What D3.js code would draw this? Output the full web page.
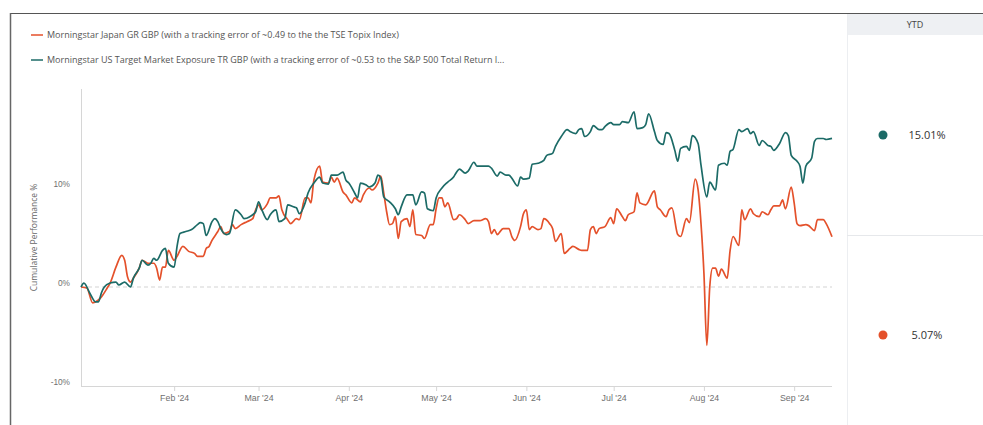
<!DOCTYPE html>
<html>
<head>
<meta charset="utf-8">
<script src="https://cdn.jsdelivr.net/npm/d3@7"></script>
<style>
  body { margin: 0; background: #fff; }
  svg { display: block; font-family: "Open Sans", "Liberation Sans", sans-serif; }
</style>
</head>
<body>
<svg id="chart"></svg>
<script>
// Series names, colours and YTD figures
const seriesNames = [
  "Morningstar Japan GR GBP (with a tracking error of ~0.49 to the the TSE Topix Index)",
  "Morningstar US Target Market Exposure TR GBP (with a tracking error of ~0.53 to the S&P 500 Total Return I..."
];
const seriesColors = ["#e4512b", "#1c6b67"];
const ytdValues = ["15.01%", "5.07%"];
const ytdColors = ["#1c6b67", "#e4512b"];

const yTicks = [-10, 0, 10];
const xTicks = ["2024-02-01", "2024-03-01", "2024-04-01", "2024-05-01", "2024-06-01", "2024-07-01", "2024-08-01", "2024-09-01"];

// cumulative performance %
const japanData = [
  ["2023-12-31", 0], ["2024-01-02", -0.1], ["2024-01-04", -1.6], ["2024-01-06", -1.3], ["2024-01-07", -1.0],
  ["2024-01-09", -0.1], ["2024-01-10", 0.4], ["2024-01-12", 2.0], ["2024-01-14", 3.2], ["2024-01-15", 2.7],
  ["2024-01-16", 1.0], ["2024-01-17", 0.5], ["2024-01-18", 0.9], ["2024-01-20", 1.9], ["2024-01-21", 2.7],
  ["2024-01-23", 2.4], ["2024-01-25", 2.4], ["2024-01-26", 1.9], ["2024-01-27", 0.7], ["2024-01-28", 2.0],
  ["2024-01-29", 2.0], ["2024-01-30", 3.7], ["2024-02-01", 2.7], ["2024-02-02", 3.1], ["2024-02-04", 4.1],
  ["2024-02-06", 3.6], ["2024-02-08", 3.4], ["2024-02-09", 3.1], ["2024-02-11", 3.1], ["2024-02-12", 3.9],
  ["2024-02-13", 4.1], ["2024-02-14", 4.7], ["2024-02-16", 5.6], ["2024-02-17", 6.1], ["2024-02-18", 5.4],
  ["2024-02-20", 5.6], ["2024-02-21", 6.3], ["2024-02-22", 5.9], ["2024-02-24", 6.3], ["2024-02-26", 6.6],
  ["2024-02-28", 6.9], ["2024-02-29", 7.8], ["2024-03-01", 8.3], ["2024-03-02", 7.8], ["2024-03-04", 8.4],
  ["2024-03-05", 9.0], ["2024-03-07", 9.0], ["2024-03-08", 9.2], ["2024-03-09", 7.8], ["2024-03-11", 6.8],
  ["2024-03-12", 6.4], ["2024-03-14", 6.9], ["2024-03-15", 6.8], ["2024-03-17", 9.0], ["2024-03-18", 9.0],
  ["2024-03-19", 8.5], ["2024-03-20", 10.8], ["2024-03-22", 12.2], ["2024-03-23", 10.6], ["2024-03-25", 10.5],
  ["2024-03-26", 11.1], ["2024-03-27", 10.6], ["2024-03-28", 11.0], ["2024-03-30", 9.6], ["2024-03-31", 9.3],
  ["2024-04-02", 8.5], ["2024-04-03", 9.0], ["2024-04-05", 8.6], ["2024-04-06", 9.3], ["2024-04-08", 10.0],
  ["2024-04-09", 9.8], ["2024-04-11", 10.5], ["2024-04-12", 11.2], ["2024-04-13", 9.5], ["2024-04-14", 7.6],
  ["2024-04-15", 6.3], ["2024-04-16", 6.4], ["2024-04-17", 7.1], ["2024-04-18", 4.9], ["2024-04-19", 6.6],
  ["2024-04-21", 6.9], ["2024-04-22", 6.1], ["2024-04-23", 7.8], ["2024-04-24", 5.3], ["2024-04-26", 5.2],
  ["2024-04-27", 4.9], ["2024-04-29", 6.3], ["2024-04-30", 6.3], ["2024-05-01", 7.9], ["2024-05-02", 9.0],
  ["2024-05-03", 9.0], ["2024-05-04", 8.1], ["2024-05-05", 8.5], ["2024-05-07", 6.8], ["2024-05-08", 6.9],
  ["2024-05-09", 7.3], ["2024-05-11", 6.8], ["2024-05-12", 6.4], ["2024-05-14", 6.7], ["2024-05-16", 6.7],
  ["2024-05-18", 6.9], ["2024-05-19", 6.6], ["2024-05-20", 5.4], ["2024-05-21", 5.8], ["2024-05-22", 5.3],
  ["2024-05-24", 5.9], ["2024-05-26", 5.9], ["2024-05-27", 5.1], ["2024-05-28", 4.7], ["2024-05-30", 6.1],
  ["2024-05-31", 7.4], ["2024-06-01", 7.8], ["2024-06-02", 5.8], ["2024-06-03", 6.1], ["2024-06-05", 5.8],
  ["2024-06-06", 5.9], ["2024-06-07", 6.9], ["2024-06-09", 6.4], ["2024-06-10", 5.9], ["2024-06-11", 4.6],
  ["2024-06-13", 5.4], ["2024-06-14", 3.4], ["2024-06-16", 3.9], ["2024-06-17", 4.1], ["2024-06-19", 3.8],
  ["2024-06-20", 3.7], ["2024-06-22", 3.7], ["2024-06-23", 5.8], ["2024-06-24", 6.1], ["2024-06-25", 5.4],
  ["2024-06-26", 5.9], ["2024-06-28", 6.1], ["2024-06-30", 7.0], ["2024-07-01", 6.4], ["2024-07-02", 7.9],
  ["2024-07-04", 7.1], ["2024-07-05", 6.7], ["2024-07-06", 7.3], ["2024-07-08", 7.6], ["2024-07-09", 9.5],
  ["2024-07-10", 8.5], ["2024-07-12", 8.3], ["2024-07-15", 9.7], ["2024-07-16", 8.1], ["2024-07-17", 7.8],
  ["2024-07-19", 7.1], ["2024-07-20", 7.8], ["2024-07-21", 8.0], ["2024-07-23", 5.3], ["2024-07-24", 5.1],
  ["2024-07-26", 6.9], ["2024-07-27", 6.5], ["2024-07-29", 10.9], ["2024-07-30", 9.8], ["2024-07-31", 6.4],
  ["2024-08-01", 1.4], ["2024-08-02", -5.9], ["2024-08-03", 0.0], ["2024-08-04", 1.9], ["2024-08-05", 1.9],
  ["2024-08-06", 1.1], ["2024-08-07", 1.8], ["2024-08-09", 0.9], ["2024-08-10", 3.7], ["2024-08-11", 5.1],
  ["2024-08-13", 4.2], ["2024-08-14", 7.8], ["2024-08-15", 6.8], ["2024-08-17", 7.9], ["2024-08-18", 7.4],
  ["2024-08-20", 7.1], ["2024-08-21", 7.6], ["2024-08-23", 7.3], ["2024-08-24", 7.8], ["2024-08-25", 8.2],
  ["2024-08-27", 8.2], ["2024-08-28", 8.8], ["2024-08-29", 7.9], ["2024-08-31", 10.1], ["2024-09-01", 8.5],
  ["2024-09-02", 6.4], ["2024-09-03", 6.2], ["2024-09-05", 6.3], ["2024-09-06", 6.2], ["2024-09-08", 5.7],
  ["2024-09-09", 6.8], ["2024-09-11", 6.8], ["2024-09-12", 6.4], ["2024-09-14", 5.07]
];

const usData = [
  ["2023-12-31", 0], ["2024-01-01", 0.4], ["2024-01-03", -0.6], ["2024-01-05", -1.5], ["2024-01-06", -1.5],
  ["2024-01-07", -0.6], ["2024-01-08", 0.0], ["2024-01-10", 0.4], ["2024-01-12", 0.5], ["2024-01-13", 0.2],
  ["2024-01-15", 0.5], ["2024-01-17", 0.0], ["2024-01-18", 0.9], ["2024-01-20", 1.9], ["2024-01-21", 2.7],
  ["2024-01-23", 2.2], ["2024-01-24", 2.4], ["2024-01-25", 2.9], ["2024-01-26", 2.7], ["2024-01-28", 3.7],
  ["2024-01-29", 3.9], ["2024-01-30", 2.4], ["2024-02-01", 2.0], ["2024-02-02", 4.1], ["2024-02-03", 5.4],
  ["2024-02-05", 5.6], ["2024-02-07", 5.8], ["2024-02-09", 6.3], ["2024-02-10", 6.5], ["2024-02-11", 6.4],
  ["2024-02-12", 5.2], ["2024-02-14", 6.6], ["2024-02-15", 6.9], ["2024-02-16", 6.6], ["2024-02-17", 5.9],
  ["2024-02-19", 5.3], ["2024-02-20", 5.4], ["2024-02-22", 7.8], ["2024-02-24", 7.3], ["2024-02-25", 6.9],
  ["2024-02-27", 7.1], ["2024-02-29", 7.6], ["2024-03-01", 8.6], ["2024-03-02", 7.9], ["2024-03-04", 6.8],
  ["2024-03-05", 7.3], ["2024-03-07", 7.8], ["2024-03-08", 6.6], ["2024-03-10", 6.9], ["2024-03-11", 8.3],
  ["2024-03-13", 8.1], ["2024-03-14", 8.0], ["2024-03-15", 7.4], ["2024-03-17", 8.5], ["2024-03-18", 9.5],
  ["2024-03-20", 10.5], ["2024-03-22", 11.1], ["2024-03-23", 10.5], ["2024-03-25", 10.4], ["2024-03-26", 11.3],
  ["2024-03-28", 11.3], ["2024-03-30", 11.6], ["2024-03-31", 10.8], ["2024-04-01", 10.5], ["2024-04-03", 9.5],
  ["2024-04-04", 9.0], ["2024-04-05", 10.5], ["2024-04-07", 10.3], ["2024-04-08", 10.1], ["2024-04-10", 10.5],
  ["2024-04-11", 11.3], ["2024-04-12", 11.0], ["2024-04-13", 9.1], ["2024-04-15", 8.6], ["2024-04-17", 7.9],
  ["2024-04-18", 7.3], ["2024-04-19", 8.1], ["2024-04-21", 9.3], ["2024-04-23", 9.3], ["2024-04-24", 8.3],
  ["2024-04-26", 9.6], ["2024-04-27", 9.5], ["2024-04-28", 7.9], ["2024-04-30", 7.7], ["2024-05-01", 9.0],
  ["2024-05-03", 10.0], ["2024-05-05", 10.6], ["2024-05-07", 11.1], ["2024-05-08", 11.6], ["2024-05-09", 11.9],
  ["2024-05-11", 11.5], ["2024-05-12", 11.7], ["2024-05-14", 12.6], ["2024-05-15", 12.2], ["2024-05-17", 12.2],
  ["2024-05-19", 12.2], ["2024-05-20", 12.0], ["2024-05-22", 11.2], ["2024-05-23", 11.6], ["2024-05-25", 11.3],
  ["2024-05-26", 11.3], ["2024-05-27", 11.0], ["2024-05-29", 10.2], ["2024-05-30", 11.1], ["2024-05-31", 10.9],
  ["2024-06-02", 11.0], ["2024-06-03", 12.4], ["2024-06-05", 12.5], ["2024-06-07", 12.8], ["2024-06-08", 13.3],
  ["2024-06-10", 13.5], ["2024-06-11", 14.2], ["2024-06-13", 15.2], ["2024-06-15", 15.9], ["2024-06-16", 15.7],
  ["2024-06-18", 15.5], ["2024-06-19", 15.9], ["2024-06-20", 16.0], ["2024-06-21", 15.2], ["2024-06-23", 15.7],
  ["2024-06-24", 16.3], ["2024-06-26", 15.9], ["2024-06-27", 15.9], ["2024-06-28", 16.2], ["2024-06-30", 16.6],
  ["2024-07-01", 16.4], ["2024-07-03", 16.4], ["2024-07-04", 16.7], ["2024-07-06", 16.6], ["2024-07-08", 17.7],
  ["2024-07-09", 16.0], ["2024-07-11", 16.1], ["2024-07-12", 16.4], ["2024-07-13", 17.5], ["2024-07-15", 15.7],
  ["2024-07-16", 14.8], ["2024-07-18", 14.4], ["2024-07-19", 15.6], ["2024-07-20", 15.5], ["2024-07-22", 13.8],
  ["2024-07-23", 12.7], ["2024-07-24", 14.0], ["2024-07-26", 14.2], ["2024-07-27", 13.8], ["2024-07-28", 15.3],
  ["2024-07-30", 14.5], ["2024-07-31", 12.3], ["2024-08-02", 9.1], ["2024-08-03", 10.6], ["2024-08-05", 9.8],
  ["2024-08-06", 12.3], ["2024-08-08", 12.5], ["2024-08-09", 12.3], ["2024-08-10", 13.7], ["2024-08-11", 13.9],
  ["2024-08-13", 15.9], ["2024-08-14", 15.7], ["2024-08-16", 16.0], ["2024-08-17", 15.5], ["2024-08-18", 15.7],
  ["2024-08-20", 14.3], ["2024-08-21", 14.8], ["2024-08-23", 14.3], ["2024-08-24", 14.2], ["2024-08-25", 13.8],
  ["2024-08-27", 14.5], ["2024-08-29", 15.6], ["2024-08-30", 15.3], ["2024-08-31", 13.3], ["2024-09-02", 12.7],
  ["2024-09-03", 12.2], ["2024-09-04", 10.5], ["2024-09-05", 12.2], ["2024-09-07", 13.0], ["2024-09-08", 14.7],
  ["2024-09-09", 15.0], ["2024-09-11", 15.0], ["2024-09-12", 14.9], ["2024-09-14", 15.01]
];

// dimensions
const width = 983;
const height = 425;
const plotLeft = 81, plotRight = 832, plotTop = 89, plotBottom = 386;
const panelLeft = 847;

const parseDate = d3.timeParse("%Y-%m-%d");
const allSeries = [japanData, usData].map(s => s.map(d => ({ date: parseDate(d[0]), value: d[1] })));

const svg = d3.select("#chart").attr("width", width).attr("height", height);

// outer frame
svg.append("line").attr("x1", 10).attr("x2", width).attr("y1", 13.5).attr("y2", 13.5)
  .attr("stroke", "#555").attr("stroke-width", 1.2);
svg.append("line").attr("x1", 10.5).attr("x2", 10.5).attr("y1", 13).attr("y2", height)
  .attr("stroke", "#666").attr("stroke-width", 1.5);

// scales
const xScale = d3.scaleTime()
  .domain([parseDate("2023-12-31"), parseDate("2024-09-14")])
  .range([plotLeft, plotRight]);
const yScale = d3.scaleLinear()
  .domain([-10, 20])
  .range([plotBottom, plotTop]);

// legend
const legend = svg.append("g").attr("font-size", 9).attr("fill", "#555");
seriesNames.forEach((name, i) => {
  const ly = 35 + i * 25;
  legend.append("line").attr("x1", 31).attr("x2", 43).attr("y1", ly).attr("y2", ly)
    .attr("stroke", seriesColors[i]).attr("stroke-width", 1.5);
  legend.append("text").attr("x", 47).attr("y", ly + 3).text(name);
});

// x axis
const xAxis = d3.axisBottom(xScale)
  .tickValues(xTicks.map(parseDate))
  .tickFormat(d3.timeFormat("%b '%y"))
  .tickSize(5)
  .tickPadding(4);
const gx = svg.append("g")
  .attr("transform", `translate(0,${plotBottom})`)
  .call(xAxis);
gx.select(".domain").attr("stroke", "#d6d6d6").attr("d", `M${plotLeft},0.5H${plotRight}`);
gx.selectAll(".tick line").attr("stroke", "#d6d6d6");
gx.selectAll(".tick text").attr("fill", "#707070").attr("font-size", 8.8).attr("font-family", null);

// y axis
const yAxis = d3.axisLeft(yScale)
  .tickValues(yTicks)
  .tickFormat(d => d + "%")
  .tickSize(0)
  .tickPadding(11);
const gy = svg.append("g")
  .attr("transform", `translate(${plotLeft},0)`)
  .call(yAxis);
gy.select(".domain").attr("stroke", "#d6d6d6").attr("d", `M0.5,${plotTop}V${plotBottom}`);
gy.selectAll(".tick text").attr("fill", "#707070").attr("font-size", 8.3).attr("font-family", null).attr("dy", "-0.15em");

svg.append("text")
  .attr("transform", `translate(37,${(plotTop + plotBottom) / 2}) rotate(-90)`)
  .attr("text-anchor", "middle")
  .attr("font-size", 8.5)
  .attr("fill", "#666")
  .text("Cumulative Performance %");

// zero line
svg.append("line")
  .attr("x1", plotLeft).attr("x2", plotRight)
  .attr("y1", yScale(0)).attr("y2", yScale(0))
  .attr("stroke", "#d3d3d3").attr("stroke-dasharray", "4,3");

// lines
const line = d3.line()
  .x(d => xScale(d.date))
  .y(d => yScale(d.value))
  .curve(d3.curveMonotoneX);

svg.selectAll(".series")
  .data(allSeries)
  .enter()
  .append("path")
  .attr("class", "series")
  .attr("fill", "none")
  .attr("stroke", (d, i) => seriesColors[i])
  .attr("stroke-width", 1.7)
  .attr("stroke-linejoin", "round")
  .attr("d", line);

// YTD panel
svg.append("rect").attr("x", panelLeft).attr("y", 14).attr("width", width - panelLeft).attr("height", 21)
  .attr("fill", "#eef0f3");
svg.append("line").attr("x1", panelLeft + 0.5).attr("x2", panelLeft + 0.5).attr("y1", 14).attr("y2", height)
  .attr("stroke", "#eceef1");
svg.append("line").attr("x1", panelLeft).attr("x2", width).attr("y1", 235.5).attr("y2", 235.5)
  .attr("stroke", "#e6e8eb");
svg.append("text").attr("x", 915).attr("y", 27.5).attr("text-anchor", "middle")
  .attr("font-size", 9).attr("fill", "#444").text("YTD");

ytdValues.forEach((v, i) => {
  const cy = 135 + i * 200;
  svg.append("circle").attr("cx", 883).attr("cy", cy).attr("r", 4.5).attr("fill", ytdColors[i]);
  svg.append("text").attr("x", 927).attr("y", cy + 4).attr("text-anchor", "middle")
    .attr("font-size", 11).attr("fill", "#333").text(v);
});
</script>
</body>
</html>
